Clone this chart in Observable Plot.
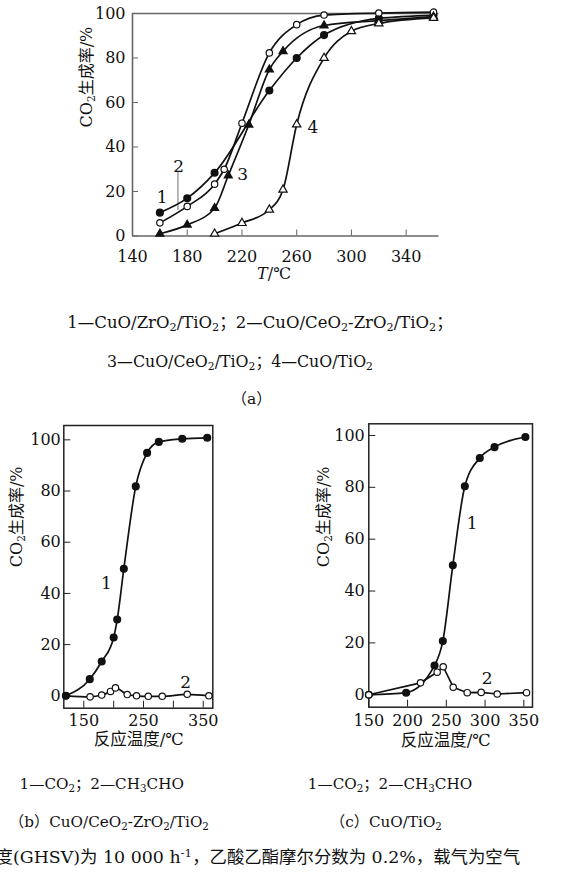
<!DOCTYPE html>
<html><head><meta charset="utf-8">
<script src="https://cdn.jsdelivr.net/npm/d3@7"></script>
<script src="https://cdn.jsdelivr.net/npm/@observablehq/plot@0.6"></script>
<style>
body{margin:0;background:#fff;}
#root{position:relative;width:573px;height:875px;overflow:hidden;font-family:"DejaVu Serif","Noto Sans CJK SC",serif;color:#111;}
.cap{position:absolute;white-space:nowrap;transform:translate(-50%,-50%);font-size:15.5px;line-height:1;}
sub{font-size:0.68em;vertical-align:-0.3em;line-height:0}
sup{font-size:0.68em;vertical-align:0.5em;line-height:0}
#root svg{position:absolute;overflow:visible}
</style></head>
<body><div id="root"></div>
<script>
// ---------- Panel (a): CO2 yield vs T for four catalysts ----------
const aNames = ["CuO/ZrO2/TiO2","CuO/CeO2-ZrO2/TiO2","CuO/CeO2/TiO2","CuO/TiO2"];
const aT1 = [160,180,200,240,260,280,320,360];
const aV1 = [10.5,17,28.4,65.4,80,90.3,97.8,99.2];
const aT2 = [160,180,200,207,220,240,260,280,320,360];
const aV2 = [5.9,13.3,23.3,30,50.7,82.3,95,99.3,100.2,100.6];
const aT3 = [160,180,200,210,225,240,250,280,320,360];
const aV3 = [1,5,12.5,27.2,50,74.8,83,94.6,96.8,98.6];
const aT4 = [200,220,240,250,260,280,300,320,360];
const aV4 = [1,5.8,11.8,20.8,50.1,80,92,95.5,98];
const aXTicks = [140,180,220,260,300,340];
const aYTicks = [0,20,40,60,80,100];
const aLabT = [161.6,173.7,220.5,271.9];
const aLabV = [17.4,31.4,27.6,48.9];
const aLabTxt = ["1","2","3","4"];
const aLeadT = [173.2], aLeadV1 = [11.5], aLeadV2 = [28.6];

// ---------- Panel (b): CuO/CeO2-ZrO2/TiO2 ----------
const bT1 = [120,160,180,200,205.9,217,237,256,275.6,314.8,356.7];
const bV1 = [0,6.5,13.4,22.8,29.8,49.6,81.8,94.9,99.2,100.4,100.8];
const bT2 = [120,160.5,180,194.7,203,222.7,238.3,257.9,281.3,323.2,359.4];
const bV2 = [0,-0.4,0.3,1.7,3.1,0.5,0,-0.2,-0.2,0.6,0];
const bXTicks = [150,200,250,300,350];
const bYTicks = [0,20,40,60,80,100];
const bLabT = [188,320.4], bLabV = [44,5.1], bLabTxt = ["1","2"];

// ---------- Panel (c): CuO/TiO2 ----------
const cT1 = [150,198.2,234.8,245.5,258.4,273.9,293.2,312.2,352];
const cV1 = [0,0.8,11.3,20.7,49.9,80.4,91.3,95.5,99.4];
const cT2 = [150,216.7,238.2,246,258.9,277,295,315.7,353.5];
const cV2 = [0,4.6,8.7,10.8,2.9,0.8,0.9,0.3,0.8];
const cXTicks = [150,200,250,300,350];
const cYTicks = [0,20,40,60,80,100];
const cLabT = [283.4,302.8], cLabV = [66.2,6.2], cLabTxt = ["1","2"];

const rows = (T,V) => T.map((t,i)=>({T:t,V:V[i]}));
const font = {fontFamily:"'DejaVu Serif','Noto Sans CJK SC',serif", fontSize:"16px", background:"transparent", color:"#111", overflow:"visible"};
const NS = "http://www.w3.org/2000/svg";

// rich text: _x subscript, ^x superscript, ~x italic
function rich(svg){
  svg.querySelectorAll("text").forEach(el=>{
    const s = el.textContent;
    if(!/[_~^]/.test(s) || el.querySelector("tspan")) return;
    el.textContent = "";
    let buf = "";
    const flush=()=>{ if(buf){ const t=document.createElementNS(NS,"tspan"); t.textContent=buf; el.appendChild(t); buf=""; } };
    for(let i=0;i<s.length;i++){
      const c=s[i];
      if(c==="_"||c==="^"||c==="~"){
        flush();
        const t=document.createElementNS(NS,"tspan");
        t.textContent=s[i+1];
        if(c==="~"){ t.setAttribute("font-style","italic"); }
        else { t.setAttribute("font-size","0.66em"); t.setAttribute("baseline-shift", c==="_"?"-28%":"45%"); }
        el.appendChild(t); i++;
      } else buf+=c;
    }
    flush();
  });
}
function place(svg,left,top){ svg.style.left=left+"px"; svg.style.top=top+"px"; rich(svg); document.getElementById("root").appendChild(svg); }

const lineStyle = {x:"T", y:"V", stroke:"#111", strokeWidth:1.7, curve:"monotone-x"};
const filled = {x:"T", y:"V", r:3.3, fill:"#111", stroke:"#111"};
const open = {x:"T", y:"V", r:3.2, fill:"#fff", stroke:"#111", strokeWidth:1.2};

// ---- (a)
const plotA = Plot.plot({
  width:573, height:290, marginLeft:132, marginRight:134.5, marginTop:13, marginBottom:54.5,
  x:{domain:[140,364]}, y:{domain:[0,100]}, style:font,
  marks:[
    Plot.ruleY([0,100], {stroke:"#666", strokeWidth:1.6}),
    Plot.ruleX([140], {stroke:"#666", strokeWidth:1.6}),
    Plot.axisY({ticks:aYTicks, tickSize:-6, tickPadding:13, stroke:"#666", color:"#111", label:null}),
    Plot.axisX({ticks:aXTicks, tickSize:-6, tickPadding:21, stroke:"#666", color:"#111", label:null}),
    Plot.ruleX(aLeadT.map((t,i)=>({T:t,y1:aLeadV1[i],y2:aLeadV2[i]})), {x:"T", y1:"y1", y2:"y2", stroke:"#888", strokeWidth:1.2}),
    Plot.line(rows(aT1,aV1), lineStyle),
    Plot.line(rows(aT2,aV2), lineStyle),
    Plot.line(rows(aT3,aV3), lineStyle),
    Plot.line(rows(aT4,aV4), lineStyle),
    Plot.dot(rows(aT1,aV1), filled),
    Plot.dot(rows(aT2,aV2), open),
    Plot.dot(rows(aT3,aV3), {...filled, symbol:"triangle", r:2.8}),
    Plot.dot(rows(aT4,aV4), {...open, symbol:"triangle", r:3.1}),
    Plot.text(aLabTxt.map((s,i)=>({T:aLabT[i],V:aLabV[i],s})), {x:"T", y:"V", text:"s", fontSize:17, fill:"#111"}),
    Plot.text(["CO_2生成率/%"], {frameAnchor:"left", dx:-45.3, dy:2.7, rotate:-90, fontSize:16, fill:"#111"}),
    Plot.text(["~T/℃"], {frameAnchor:"bottom", dx:-11.7, dy:43, fontSize:16, fill:"#111"})
  ]
});
place(plotA,0,0);

// ---- (b)
const plotB = Plot.plot({
  width:290, height:380, marginLeft:63.3, marginRight:77.7, marginTop:25, marginBottom:72.3,
  x:{domain:[116.5,366]}, y:{domain:[-4.84,105.6]}, style:font,
  marks:[
    Plot.frame({stroke:"#222", strokeWidth:1.5}),
    Plot.axisY({ticks:bYTicks, tickSize:-7, tickPadding:10, stroke:"#222", color:"#111", label:null}),
    Plot.axisX({ticks:bXTicks, tickSize:-7, tickPadding:13.5, tickFormat:d=>d%100===50?d:"", stroke:"#222", color:"#111", label:null}),
    Plot.line(rows(bT2,bV2), lineStyle),
    Plot.line(rows(bT1,bV1), lineStyle),
    Plot.dot(rows(bT2,bV2), open),
    Plot.dot(rows(bT1,bV1), filled),
    Plot.text(bLabTxt.map((s,i)=>({T:bLabT[i],V:bLabV[i],s})), {x:"T", y:"V", text:"s", fontSize:17, fill:"#111"}),
    Plot.text(["CO_2生成率/%"], {frameAnchor:"left", dx:-46.6, dy:0.3, rotate:-90, fontSize:16, fill:"#111"}),
    Plot.text(["反应温度/℃"], {frameAnchor:"bottom", dx:0.5, dy:36.5, fontSize:16.5, fill:"#111"})
  ]
});
place(plotB,0,400);

// ---- (c)
const plotC = Plot.plot({
  width:283, height:380, marginLeft:78.3, marginRight:41, marginTop:23.3, marginBottom:73.3,
  x:{domain:[150,361.2]}, y:{domain:[-4.8,104.5]}, style:font,
  marks:[
    Plot.frame({stroke:"#222", strokeWidth:1.5}),
    Plot.axisY({ticks:cYTicks, tickSize:-7, tickPadding:11, stroke:"#222", color:"#111", label:null}),
    Plot.axisX({ticks:cXTicks, tickSize:-7, tickPadding:14.5, stroke:"#222", color:"#111", label:null}),
    Plot.line(rows(cT2,cV2), {...lineStyle, curve:"linear"}),
    Plot.line(rows(cT1,cV1), lineStyle),
    Plot.dot(rows(cT1,cV1), filled),
    Plot.dot(rows(cT2,cV2), open),
    Plot.text(cLabTxt.map((s,i)=>({T:cLabT[i],V:cLabV[i],s})), {x:"T", y:"V", text:"s", fontSize:17, fill:"#111"}),
    Plot.text(["CO_2生成率/%"], {frameAnchor:"left", dx:-45, dy:1.7, rotate:-90, fontSize:16, fill:"#111"}),
    Plot.text(["反应温度/℃"], {frameAnchor:"bottom", dx:-5, dy:38.5, fontSize:16.5, fill:"#111"})
  ]
});
place(plotC,290,400);

// ---- captions
const caps = [
  [260,323,"1—CuO/ZrO<sub>2</sub>/TiO<sub>2</sub>；2—CuO/CeO<sub>2</sub>-ZrO<sub>2</sub>/TiO<sub>2</sub>；",16.5],
  [240,361.7,"3—CuO/CeO<sub>2</sub>/TiO<sub>2</sub>；4—CuO/TiO<sub>2</sub>",15.8],
  [251.7,400,"（a）",15.5],
  [101.7,785,"1—CO<sub>2</sub>；2—CH<sub>3</sub>CHO",15.2],
  [390,785,"1—CO<sub>2</sub>；2—CH<sub>3</sub>CHO",15.2],
  [109,823.3,"（b）CuO/CeO<sub>2</sub>-ZrO<sub>2</sub>/TiO<sub>2</sub>",15.2],
  [386,823.3,"（c）CuO/TiO<sub>2</sub>",15.2]
];
const root = document.getElementById("root");
caps.forEach(([x,y,h,fs])=>{ const d=document.createElement("div"); d.className="cap"; d.style.left=x+"px"; d.style.top=y+"px"; d.style.fontSize=fs+"px"; d.innerHTML=h; root.appendChild(d); });
const last = document.createElement("div");
last.style.cssText="position:absolute;left:13px;top:858.3px;transform:translateY(-50%);white-space:nowrap;font-size:17.4px;line-height:1;";
last.innerHTML='<span style="position:absolute;right:100%;">空间速度</span>(GHSV)为 10 000 h<sup>-1</sup>，乙酸乙酯摩尔分数为 0.2%，载气为空气';
root.appendChild(last);
</script></body></html>
